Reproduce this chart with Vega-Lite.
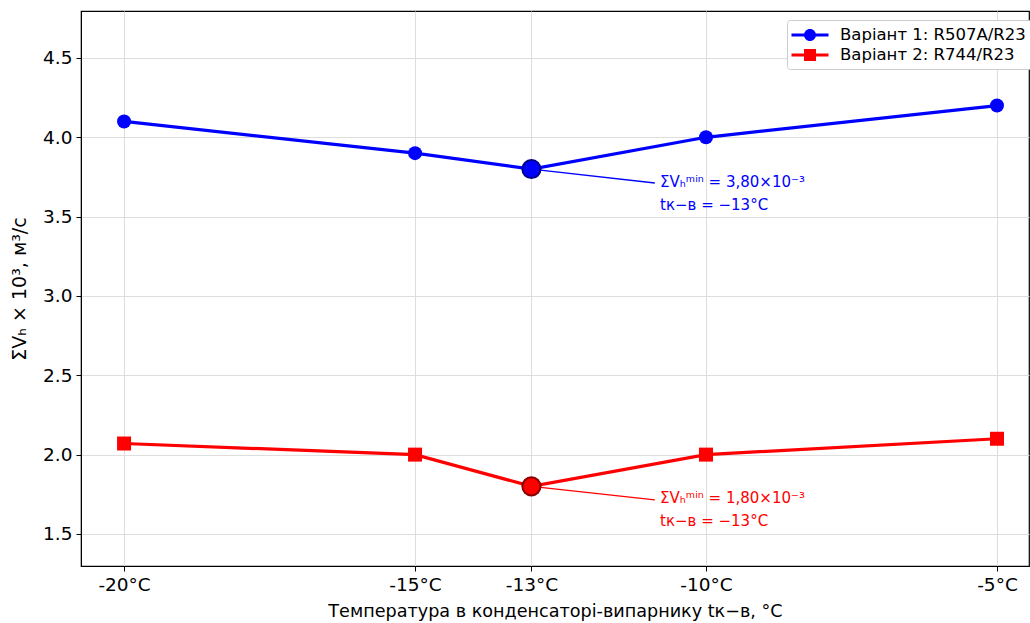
{
  "$schema": "https://vega.github.io/schema/vega-lite/v6.json",
  "width": 948,
  "height": 555,
  "autosize": {"type": "none"},
  "padding": {"left": 81, "top": 11, "right": 1, "bottom": 57},
  "background": "white",
  "config": {
    "font": "DejaVu Sans",
    "view": {"stroke": "black", "strokeWidth": 1.2},
    "axis": {
      "labelFont": "DejaVu Sans",
      "titleFont": "DejaVu Sans",
      "labelFontSize": 18.5,
      "titleFontSize": 17.6,
      "titleFontWeight": "normal",
      "labelColor": "black",
      "titleColor": "black",
      "tickColor": "black",
      "tickSize": 5,
      "tickWidth": 1,
      "domainColor": "black",
      "gridColor": "#dedede",
      "gridWidth": 1
    },
    "legend": {
      "labelFont": "DejaVu Sans",
      "labelFontSize": 16.5,
      "labelColor": "black",
      "labelLimit": 400
    }
  },
  "datasets": {
    "main": [
      {"series": "Варіант 1: R507A/R23", "t": -20, "v": 4.1},
      {"series": "Варіант 1: R507A/R23", "t": -15, "v": 3.9},
      {"series": "Варіант 1: R507A/R23", "t": -13, "v": 3.8},
      {"series": "Варіант 1: R507A/R23", "t": -10, "v": 4.0},
      {"series": "Варіант 1: R507A/R23", "t": -5, "v": 4.2},
      {"series": "Варіант 2: R744/R23", "t": -20, "v": 2.07},
      {"series": "Варіант 2: R744/R23", "t": -15, "v": 2.0},
      {"series": "Варіант 2: R744/R23", "t": -13, "v": 1.8},
      {"series": "Варіант 2: R744/R23", "t": -10, "v": 2.0},
      {"series": "Варіант 2: R744/R23", "t": -5, "v": 2.1}
    ],
    "blue": [
      {"t": -20, "v": 4.1},
      {"t": -15, "v": 3.9},
      {"t": -13, "v": 3.8},
      {"t": -10, "v": 4.0},
      {"t": -5, "v": 4.2}
    ],
    "red": [
      {"t": -20, "v": 2.07},
      {"t": -15, "v": 2.0},
      {"t": -13, "v": 1.8},
      {"t": -10, "v": 2.0},
      {"t": -5, "v": 2.1}
    ],
    "annotBlue": [
      {"t": -13, "v": 3.8, "t2": -10.88, "v2": 3.712, "tx": -10.79, "ty": 3.72, "label": "ΣVₕᵐⁱⁿ = 3,80×10⁻³\ntк−в = −13°C"}
    ],
    "annotRed": [
      {"t": -13, "v": 1.8, "t2": -10.88, "v2": 1.715, "tx": -10.79, "ty": 1.729, "label": "ΣVₕᵐⁱⁿ = 1,80×10⁻³\ntк−в = −13°C"}
    ]
  },
  "layer": [
    {
      "data": {"name": "blue"},
      "mark": {"type": "line", "strokeWidth": 3.2, "color": "#0000ff"},
      "encoding": {
        "x": {
          "field": "t", "type": "quantitative",
          "scale": {"domain": [-20.74, -4.45], "nice": false, "zero": false},
          "axis": {
            "values": [-20, -15, -13, -10, -5],
            "labelExpr": "datum.value + '°C'",
            "grid": true,
            "labelPadding": 4,
            "titlePadding": 9,
            "title": "Температура в конденсаторі-випарнику tк−в, °C"
          }
        },
        "y": {
          "field": "v", "type": "quantitative",
          "scale": {"domain": [1.298, 4.796], "nice": false, "zero": false},
          "axis": {
            "values": [1.5, 2.0, 2.5, 3.0, 3.5, 4.0, 4.5],
            "format": ".1f",
            "grid": true,
            "labelPadding": 4,
            "titlePadding": 13,
            "titleFontSize": 19,
            "title": "ΣVₕ × 10³, м³/с"
          }
        }
      }
    },
    {
      "data": {"name": "red"},
      "mark": {"type": "line", "strokeWidth": 3.2, "color": "#ff0000"},
      "encoding": {
        "x": {"field": "t", "type": "quantitative"},
        "y": {"field": "v", "type": "quantitative"}
      }
    },
    {
      "data": {"name": "blue"},
      "mark": {"type": "point", "shape": "circle", "filled": true, "size": 196, "opacity": 1, "color": "#0000ff"},
      "encoding": {
        "x": {"field": "t", "type": "quantitative"},
        "y": {"field": "v", "type": "quantitative"}
      }
    },
    {
      "data": {"name": "red"},
      "mark": {"type": "point", "shape": "square", "filled": true, "size": 196, "opacity": 1, "color": "#ff0000"},
      "encoding": {
        "x": {"field": "t", "type": "quantitative"},
        "y": {"field": "v", "type": "quantitative"}
      }
    },
    {
      "data": {"name": "annotBlue"},
      "mark": {"type": "rule", "strokeWidth": 1.3, "color": "#0000ff"},
      "encoding": {
        "x": {"field": "t", "type": "quantitative"},
        "y": {"field": "v", "type": "quantitative"},
        "x2": {"field": "t2"},
        "y2": {"field": "v2"}
      }
    },
    {
      "data": {"name": "annotRed"},
      "mark": {"type": "rule", "strokeWidth": 1.3, "color": "#ff0000"},
      "encoding": {
        "x": {"field": "t", "type": "quantitative"},
        "y": {"field": "v", "type": "quantitative"},
        "x2": {"field": "t2"},
        "y2": {"field": "v2"}
      }
    },
    {
      "data": {"name": "annotBlue"},
      "mark": {"type": "point", "shape": "circle", "filled": true, "size": 330, "opacity": 1, "fill": "#0000ff", "stroke": "#00008b", "strokeWidth": 2},
      "encoding": {
        "x": {"field": "t", "type": "quantitative"},
        "y": {"field": "v", "type": "quantitative"}
      }
    },
    {
      "data": {"name": "annotRed"},
      "mark": {"type": "point", "shape": "circle", "filled": true, "size": 330, "opacity": 1, "fill": "#ff0000", "stroke": "#8b0000", "strokeWidth": 2},
      "encoding": {
        "x": {"field": "t", "type": "quantitative"},
        "y": {"field": "v", "type": "quantitative"}
      }
    },
    {
      "data": {"name": "annotBlue"},
      "mark": {"type": "text", "align": "left", "baseline": "middle", "fontSize": 15, "lineBreak": "\n", "lineHeight": 23, "font": "DejaVu Sans", "color": "#0000ff"},
      "encoding": {
        "x": {"field": "tx", "type": "quantitative"},
        "y": {"field": "ty", "type": "quantitative"},
        "text": {"field": "label"}
      }
    },
    {
      "data": {"name": "annotRed"},
      "mark": {"type": "text", "align": "left", "baseline": "middle", "fontSize": 15, "lineBreak": "\n", "lineHeight": 23, "font": "DejaVu Sans", "color": "#ff0000"},
      "encoding": {
        "x": {"field": "tx", "type": "quantitative"},
        "y": {"field": "ty", "type": "quantitative"},
        "text": {"field": "label"}
      }
    },
    {
      "data": {"name": "main"},
      "mark": {"type": "point", "filled": true, "opacity": 0},
      "encoding": {
        "x": {"field": "t", "type": "quantitative"},
        "y": {"field": "v", "type": "quantitative"},
        "fill": {
          "field": "series", "type": "nominal",
          "scale": {"domain": ["Варіант 1: R507A/R23", "Варіант 2: R744/R23"], "range": ["#0000ff", "#ff0000"]},
          "legend": {
            "title": null,
            "orient": "none",
            "legendX": 706,
            "legendY": 9,
            "padding": 5,
            "symbolSize": 400,
            "symbolOpacity": 1,
            "symbolStrokeWidth": 0,
            "symbolOffset": 8,
            "labelOffset": 20,
            "rowPadding": 1,
            "fillColor": "white",
            "strokeColor": "#cccccc",
            "cornerRadius": 3
          }
        },
        "shape": {
          "field": "series", "type": "nominal",
          "scale": {
            "domain": ["Варіант 1: R507A/R23", "Варіант 2: R744/R23"],
            "range": [
              "M-1.85,-0.15H-0.58V0.15H-1.85Z M0.58,-0.15H1.85V0.15H0.58Z M-0.6,0A0.6,0.6 0 1,1 0.6,0A0.6,0.6 0 1,1 -0.6,0Z",
              "M-1.85,-0.15H-0.6V0.15H-1.85Z M0.6,-0.15H1.85V0.15H0.6Z M-0.6,-0.6H0.6V0.6H-0.6Z"
            ]
          },
          "legend": {
            "title": null,
            "orient": "none",
            "legendX": 706,
            "legendY": 9,
            "padding": 5,
            "symbolSize": 400,
            "symbolOpacity": 1,
            "symbolStrokeWidth": 0,
            "symbolOffset": 8,
            "labelOffset": 20,
            "rowPadding": 1,
            "fillColor": "white",
            "strokeColor": "#cccccc",
            "cornerRadius": 3
          }
        }
      }
    }
  ]
}
